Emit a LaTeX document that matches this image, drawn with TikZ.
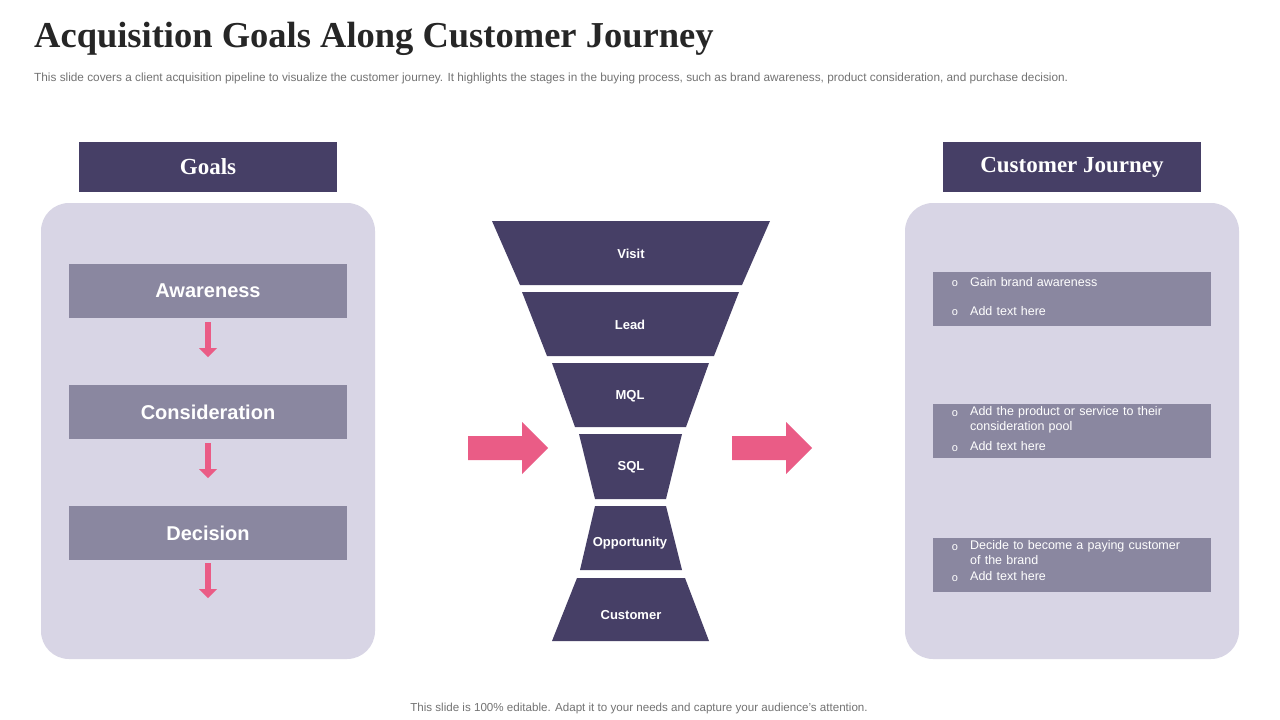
\documentclass[tikz,border=0pt]{standalone}
\usepackage{fontspec}
\setmainfont{Liberation Sans}
\newfontfamily\titlefont{Liberation Serif}
\begin{document}
\begin{tikzpicture}[x=1pt,y=-1pt]
\definecolor{dk}{HTML}{463F66}
\definecolor{bx}{HTML}{8A87A0}
\definecolor{pn}{HTML}{D8D5E5}
\definecolor{pk}{HTML}{EA5C86}
\tikzset{
 panel/.style={fill=pn,draw=none,rounded corners=28pt},
 head/.style={fill=dk,text=white,font=\titlefont\bfseries\fontsize{23}{26}\selectfont,minimum width=258pt,minimum height=50pt,inner sep=0},
 goal/.style={fill=bx,text=white,font=\bfseries\fontsize{20}{24}\selectfont,minimum width=278pt,minimum height=54pt,inner sep=0},
 jb/.style={fill=bx,minimum width=278pt,minimum height=54pt,inner sep=0},
 btxt/.style={text=white,font=\fontsize{12.5}{15.5}\selectfont,anchor=north west,align=left,text width=235pt,inner sep=0},
 stage/.style={fill=dk,draw=none},
 slab/.style={text=white,font=\bfseries\fontsize{13}{15}\selectfont},
 big/.style={fill=pk,draw=none}
}
\useasboundingbox (0,0) rectangle (1280,720);
\fill[white] (0,0) rectangle (1280,720);
\node[anchor=west,font=\titlefont\bfseries\fontsize{36.5}{42}\selectfont,text=black!85,inner sep=0] (title) at (34,39) {Acquisition Goals Along Customer Journey};
\node[anchor=west,font=\fontsize{11.8}{13}\selectfont,text=black!55,inner sep=0] (sub) at (34,78) {This slide covers a client acquisition pipeline to visualize the customer journey. It highlights the stages in the buying process, such as brand awareness, product consideration, and purchase decision.};
\node[font=\fontsize{11.6}{13}\selectfont,text=black!55] (foot) at (639,708) {This slide is 100\% editable. Adapt it to your needs and capture your audience's attention.};
% left
\fill[panel] (41,203) rectangle (375,659);
\node[head] (goals) at (208,167) {Goals};
\node[goal] (aw) at (208,291) {Awareness};
\node[goal] (co) at (208,412) {Consideration};
\node[goal] (de) at (208,533) {Decision};
\draw[pk,line width=6pt] (208,322) -- (208,349);
\fill[pk] (199,348) -- (217,348) -- (208,357) -- cycle;
\draw[pk,line width=6pt] (208,443) -- (208,470);
\fill[pk] (199,469) -- (217,469) -- (208,478) -- cycle;
\draw[pk,line width=6pt] (208,563) -- (208,590);
\fill[pk] (199,589) -- (217,589) -- (208,598) -- cycle;
% right
\fill[panel] (905,203) rectangle (1239,659);
\node[head] (cj) at (1072,167) {Customer Journey};
\node[jb] (j1) at (1072,299) {};
\node[jb] (j2) at (1072,431) {};
\node[jb] (j3) at (1072,565) {};
\foreach \y in {284,313,414,449,548,579}
 \node[text=white,font=\fontsize{11}{13}\selectfont] at (955,\y) {o};
\node[btxt] at (970,277) {Gain brand awareness};
\node[btxt] at (970,306) {Add text here};
\node[btxt] at (970,406) {Add the product or service to their\\consideration pool};
\node[btxt] at (970,441) {Add text here};
\node[btxt] at (970,540) {Decide to become a paying customer\\of the brand};
\node[btxt] at (970,571) {Add text here};
% funnel
\fill[stage] (492,221) -- (770,221) -- (742,285) -- (520,285) -- cycle;
\fill[stage] (522,292) -- (739,292) -- (714,356) -- (547,356) -- cycle;
\fill[stage] (552,363) -- (709,363) -- (686,427) -- (575,427) -- cycle;
\fill[stage] (579,434) -- (682,434) -- (666,499) -- (595,499) -- cycle;
\fill[stage] (595,506) -- (666,506) -- (682,570) -- (580,570) -- cycle;
\fill[stage] (577,578) -- (685,578) -- (709,641) -- (552,641) -- cycle;
\node[slab] (v) at (631,254) {Visit};
\node[slab] (l) at (630,325) {Lead};
\node[slab] (m) at (630,396) {MQL};
\node[slab] (s) at (631,467) {SQL};
\node[slab] (o) at (630,543) {Opportunity};
\node[slab] (c) at (631,615) {Customer};
% big arrows
\fill[big] (468,436) -- (522,436) -- (522,422) -- (548,448) -- (522,474) -- (522,460) -- (468,460) -- cycle;
\fill[big] (732,436) -- (786,436) -- (786,422) -- (812,448) -- (786,474) -- (786,460) -- (732,460) -- cycle;
\end{tikzpicture}
\end{document}
